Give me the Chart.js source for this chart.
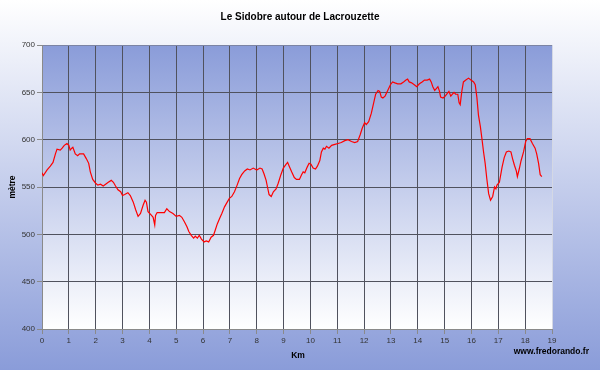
<!DOCTYPE html>
<html>
<head>
<meta charset="utf-8">
<script src="https://cdn.jsdelivr.net/npm/chart.js@4"></script>
<style>
  html, body { margin: 0; padding: 0; }
  #wrap { width: 600px; height: 370px; }
</style>
</head>
<body>
<div id="wrap"><canvas id="profil"></canvas></div>
<script>
// distance (km) and altitude (m)
const km = [
  0, 0.05, 0.19, 0.31, 0.41, 0.5, 0.56, 0.68, 0.75, 0.83, 0.93, 1.0, 1.05, 1.11, 1.15, 1.24, 1.33, 1.4, 1.49, 1.55,
  1.65, 1.74, 1.8, 1.89, 2.0, 2.08, 2.18, 2.28, 2.37, 2.47, 2.58, 2.66, 2.74, 2.83, 2.93, 3.0, 3.08, 3.2, 3.29, 3.4,
  3.49, 3.58, 3.67, 3.77, 3.84, 3.89, 3.95, 4.08, 4.14, 4.2, 4.23, 4.29, 4.44, 4.56, 4.65, 4.75, 4.88, 5.0, 5.12, 5.21,
  5.31, 5.4, 5.47, 5.56, 5.65, 5.71, 5.79, 5.86, 5.94, 6.04, 6.12, 6.21, 6.3, 6.39, 6.45, 6.53, 6.62, 6.7, 6.8, 6.9,
  6.98, 7.07, 7.17, 7.27, 7.36, 7.44, 7.55, 7.65, 7.75, 7.87, 8.0, 8.12, 8.2, 8.27, 8.35, 8.4, 8.46, 8.54, 8.62, 8.72,
  8.8, 8.9, 8.99, 9.09, 9.15, 9.21, 9.3, 9.4, 9.48, 9.59, 9.67, 9.73, 9.79, 9.88, 9.95, 10.02, 10.1, 10.19, 10.26, 10.35,
  10.41, 10.48, 10.54, 10.6, 10.69, 10.79, 10.91, 11.03, 11.15, 11.28, 11.4, 11.53, 11.65, 11.76, 11.85, 11.93, 12.02, 12.08, 12.17, 12.27,
  12.35, 12.43, 12.52, 12.58, 12.64, 12.7, 12.78, 12.88, 12.98, 13.06, 13.15, 13.25, 13.37, 13.47, 13.56, 13.62, 13.68, 13.77, 13.87, 13.96,
  14.06, 14.16, 14.25, 14.35, 14.44, 14.5, 14.56, 14.63, 14.69, 14.75, 14.81, 14.85, 14.94, 15.02, 15.1, 15.16, 15.23, 15.29, 15.35, 15.41,
  15.49, 15.54, 15.58, 15.64, 15.7, 15.79, 15.89, 15.98, 16.08, 16.14, 16.2, 16.26, 16.33, 16.39, 16.45, 16.51, 16.57, 16.64, 16.71, 16.79,
  16.86, 16.91, 16.95, 17.04, 17.14, 17.22, 17.3, 17.39, 17.47, 17.53, 17.6, 17.67, 17.71, 17.78, 17.85, 17.94, 18.02, 18.08, 18.18, 18.27,
  18.37, 18.43, 18.5, 18.56, 18.62
];
const altitude = [
  565, 562, 568, 572, 576, 585, 590, 589, 591, 594, 596, 594, 589, 591, 592, 585, 583, 585, 585, 585,
  580, 575, 566, 558, 554, 552, 553, 551, 553, 555, 557, 555, 551, 547, 545, 541, 542, 544, 541, 534,
  526, 519, 522, 531, 536, 534, 524, 520, 518, 510, 520, 523, 523, 523, 527, 524, 522, 519, 520, 518,
  513, 508, 503, 499, 496, 498, 496, 499, 495, 492, 493, 492, 497, 499, 504, 511, 517, 522, 529, 534,
  538, 540, 545, 552, 559, 563, 567, 569, 568, 570, 568, 570, 569, 564, 557, 550, 542, 540, 545, 548,
  554, 563, 570, 574, 576, 572, 566, 560, 558, 558, 563, 566, 565, 571, 575, 574, 570, 569, 572, 578,
  587, 591, 590, 593, 591, 594, 595, 596, 597, 599, 600, 598, 597, 598, 605, 612, 618, 616, 619, 628,
  638, 648, 652, 651, 645, 644, 646, 652, 658, 661, 660, 659, 659, 661, 663, 664, 661, 660, 658, 656,
  659, 661, 663, 663, 664, 661, 656, 652, 654, 656, 651, 645, 644, 646, 649, 651, 646, 648, 650, 648,
  648, 639, 637, 651, 661, 663, 665, 663, 661, 658, 645, 626, 614, 601, 587, 575, 559, 543, 536, 540,
  550, 548, 552, 555, 571, 581, 587, 588, 587, 580, 573, 567, 561, 569, 578, 587, 598, 601, 601, 596,
  591, 585, 575, 563, 561
];
const xTicks = [0, 1, 2, 3, 4, 5, 6, 7, 8, 9, 10, 11, 12, 13, 14, 15, 16, 17, 18, 19];
const yTicks = [400, 450, 500, 550, 600, 650, 700];

const points = km.map((d, i) => ({ x: d, y: altitude[i] }));

const fonds = {
  id: 'fonds',
  beforeDraw(chart) {
    const c = chart.ctx, a = chart.chartArea;
    let g = c.createLinearGradient(0, 0, 0, chart.height);
    g.addColorStop(0, '#ffffff');
    g.addColorStop(1, '#8a9cd9');
    c.save();
    c.fillStyle = g;
    c.fillRect(0, 0, chart.width, chart.height);
    g = c.createLinearGradient(0, a.top, 0, a.bottom);
    g.addColorStop(0, '#8a9cd9');
    g.addColorStop(1, '#ffffff');
    c.fillStyle = g;
    c.fillRect(a.left, a.top, a.right - a.left, a.bottom - a.top);
    c.restore();
  },
  afterDraw(chart) {
    const c = chart.ctx;
    c.save();
    c.fillStyle = '#000';
    c.textAlign = 'center';
    c.textBaseline = 'middle';
    c.font = 'bold 10px "Liberation Sans", Arial';
    c.fillText('Le Sidobre autour de Lacrouzette', 300, 17);
    c.font = 'bold 8.5px "Liberation Sans", Arial';
    c.fillText('Km', 298, 356);
    c.textAlign = 'right';
    c.fillText('www.fredorando.fr', 589, 352);
    c.translate(13, 187);
    c.rotate(-Math.PI / 2);
    c.textAlign = 'center';
    c.fillText('mètre', 0, 0);
    c.restore();
  }
};

new Chart(document.getElementById('profil'), {
  type: 'line',
  data: {
    datasets: [{
      data: points,
      borderColor: '#ff0000',
      borderWidth: 1.2,
      pointRadius: 0,
      tension: 0,
      fill: false
    }]
  },
  options: {
    responsive: true,
    maintainAspectRatio: false,
    animation: false,
    events: [],
    layout: { padding: { left: 0, right: 48, top: 45, bottom: 0 } },
    plugins: { legend: { display: false }, title: { display: false }, tooltip: { enabled: false } },
    scales: {
      x: {
        type: 'linear',
        min: 0,
        max: 19,
        afterBuildTicks: s => { s.ticks = xTicks.map(v => ({ value: v })); },
        afterFit: s => { s.height = 41; },
        grid: {
          color: ctx => ctx.tick && ctx.tick.value === 19 ? '#d4d8e4' : '#50525e',
          tickColor: '#8a8a8a',
          tickLength: 5
        },
        border: { color: '#8a8a8a' },
        ticks: { color: '#333', padding: 2, maxRotation: 0, autoSkip: false, font: { family: '"Liberation Sans", Arial', size: 8 } }
      },
      y: {
        min: 400,
        max: 700,
        afterBuildTicks: s => { s.ticks = yTicks.map(v => ({ value: v })); },
        afterFit: s => { s.width = 42; },
        grid: {
          color: ctx => ctx.tick && ctx.tick.value === 700 ? '#7c84a4' : '#50525e',
          tickColor: '#8a8a8a',
          tickLength: 5
        },
        border: { color: '#8a8a8a' },
        ticks: { color: '#333', padding: 2, font: { family: '"Liberation Sans", Arial', size: 8 } }
      }
    }
  },
  plugins: [fonds]
});
</script>
</body>
</html>
